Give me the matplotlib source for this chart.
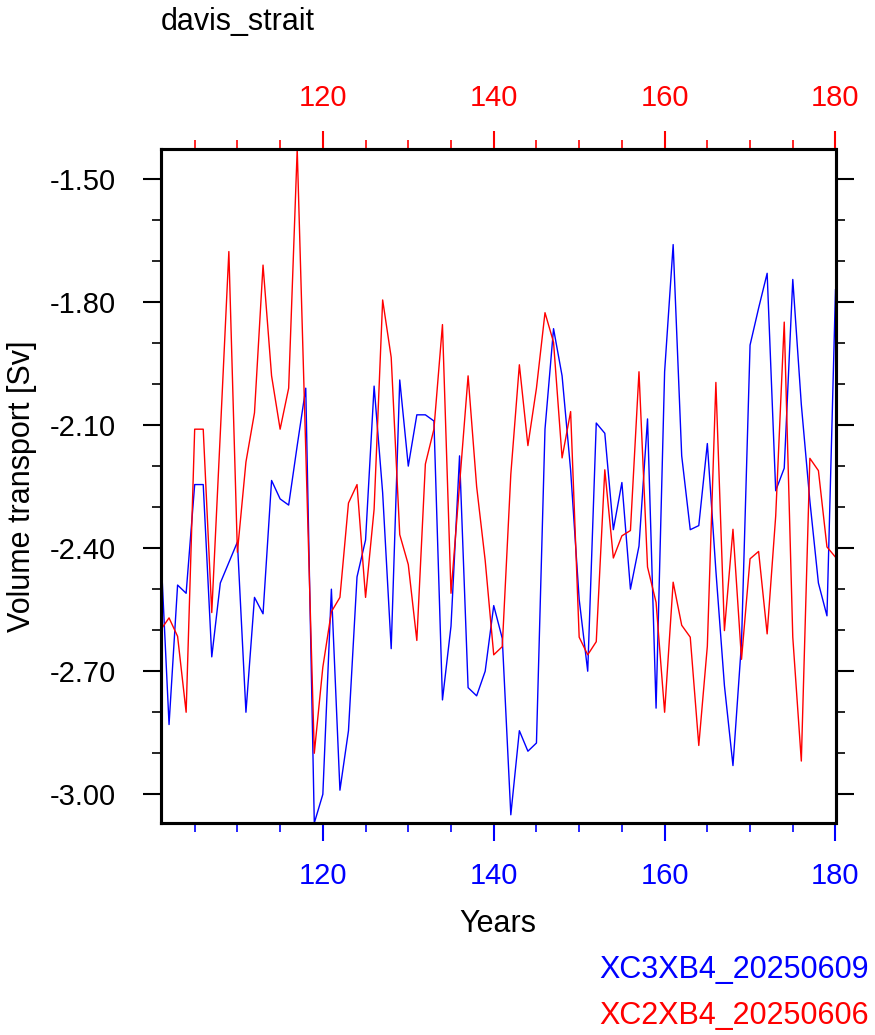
import numpy as np
import matplotlib
matplotlib.use("Agg")
import matplotlib.pyplot as plt
from matplotlib.ticker import MultipleLocator, FormatStrFormatter

plt.rcParams['font.family'] = ['Liberation Sans', 'DejaVu Sans']

years = np.arange(101, 181)

# XC3XB4_20250609 (blue, bottom axis)
blue_vals = [
    -2.39, -2.83, -2.49, -2.51, -2.245, -2.245, -2.665, -2.485, -2.435, -2.385,
    -2.80, -2.52, -2.56, -2.235, -2.28, -2.295, -2.15, -2.01, -3.07, -3.00,
    -2.50, -2.99, -2.845, -2.47, -2.38, -2.005, -2.265, -2.645, -1.99, -2.20,
    -2.075, -2.075, -2.09, -2.77, -2.59, -2.175, -2.74, -2.76, -2.70, -2.54,
    -2.62, -3.05, -2.845, -2.895, -2.875, -2.11, -1.865, -1.98, -2.21, -2.525,
    -2.70, -2.095, -2.12, -2.355, -2.24, -2.50, -2.395, -2.085, -2.79, -1.97,
    -1.66, -2.175, -2.355, -2.345, -2.145, -2.455, -2.735, -2.93, -2.63, -1.905,
    -1.815, -1.73, -2.26, -2.205, -1.745, -2.05, -2.285, -2.485, -2.565, -1.77,
]

# XC2XB4_20250606 (red, top axis)
red_vals = [
    -2.60, -2.57, -2.615, -2.80, -2.11, -2.11, -2.557, -2.12, -1.677, -2.41,
    -2.19, -2.07, -1.71, -1.98, -2.11, -2.01, -1.427, -2.16, -2.90, -2.69,
    -2.555, -2.52, -2.29, -2.245, -2.52, -2.305, -1.795, -1.935, -2.367, -2.44,
    -2.625, -2.195, -2.11, -1.855, -2.51, -2.245, -1.98, -2.25, -2.43, -2.66,
    -2.64, -2.22, -1.953, -2.15, -2.01, -1.826, -1.898, -2.18, -2.067, -2.617,
    -2.66, -2.628, -2.209, -2.424, -2.37, -2.357, -1.97, -2.446, -2.532, -2.80,
    -2.483, -2.588, -2.617, -2.881, -2.639, -1.996, -2.601, -2.354, -2.671, -2.426,
    -2.408, -2.609, -2.322, -1.849, -2.617, -2.919, -2.181, -2.211, -2.397, -2.422,
]

title = "davis_strait"
names = ["XC3XB4_20250609", "XC2XB4_20250606"]

W, H = 875, 1035
fig = plt.figure(figsize=(W / 100, H / 100), dpi=100)
l, r, t, b = 160.5, 835.5, 149, 823
ax = fig.add_axes([l / W, 1 - b / H, (r - l) / W, (b - t) / H])
ax.plot(years, blue_vals, color='#0000ff', lw=1.0)

ax2 = ax.twiny()
ax2.plot(years, red_vals, color='#ff0000', lw=1.0)

allv = blue_vals + red_vals
ax.set_ylim(min(allv), max(allv))
ax.set_xlim(years[0], years[-1])
ax2.set_xlim(years[0], years[-1])

for a in (ax, ax2):
    for s in a.spines.values():
        s.set_linewidth(2.2)
        s.set_color('black')

ax.xaxis.set_major_locator(MultipleLocator(20))
ax.xaxis.set_minor_locator(MultipleLocator(5))
ax2.xaxis.set_major_locator(MultipleLocator(20))
ax2.xaxis.set_minor_locator(MultipleLocator(5))
ax.yaxis.set_major_locator(MultipleLocator(0.3))
ax.yaxis.set_minor_locator(MultipleLocator(0.1))
ax.yaxis.set_major_formatter(FormatStrFormatter('%.2f'))

ax.tick_params(axis='x', which='both', direction='out', colors='#0000ff',
               bottom=True, top=False, labelsize=21, pad=15)
ax2.tick_params(axis='x', which='both', direction='out', colors='#ff0000',
                bottom=False, top=True, labelsize=21, pad=14)
ax.tick_params(axis='y', which='both', direction='out', left=True, right=True,
               labelright=False, labelsize=21, pad=19)
for a in (ax, ax2):
    a.tick_params(which='major', length=13, width=1.5)
    a.tick_params(which='minor', length=6.5, width=1.2)

fig.text(l / W, 1 - 30 / H, title, fontsize=22, ha='left', va='baseline')
fig.text((l + r) / 2 / W, 1 - 932 / H, "Years", fontsize=22, ha='center', va='baseline')
fig.text(22 / W, 1 - 486 / H, "Volume transport [Sv]", fontsize=22,
         rotation=90, ha='center', va='center')
fig.text(869 / W, 1 - 978 / H, names[0], fontsize=22, color='#0000ff',
         ha='right', va='baseline')
fig.text(869 / W, 1 - 1024 / H, names[1], fontsize=22, color='#ff0000',
         ha='right', va='baseline')

plt.savefig("out.png", dpi=100)
